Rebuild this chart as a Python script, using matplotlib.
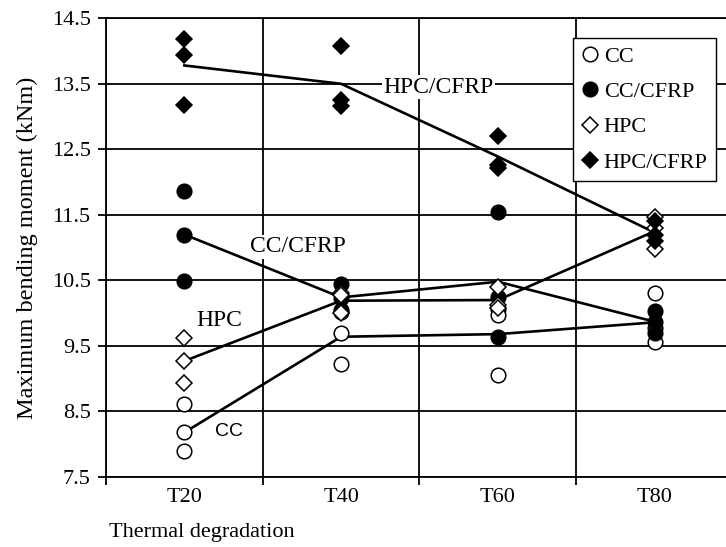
import matplotlib
matplotlib.use("Agg")
import matplotlib.pyplot as plt
from matplotlib.ticker import FixedLocator, NullFormatter

plt.rcParams['font.family'] = ['Liberation Serif', 'DejaVu Serif']
plt.rcParams['font.size'] = 16

categories = ["T20", "T40", "T60", "T80"]

# individual specimen results (kNm), three per temperature
cc_pts = [[8.61, 8.18, 7.89], [10.02, 9.70, 9.22], [10.07, 9.97, 9.05], [10.31, 9.77, 9.56]]
cc_cfrp_pts = [[11.87, 11.20, 10.49], [10.45, 10.23, 10.05], [11.54, 10.25, 9.63], [10.04, 9.87, 9.70]]
hpc_pts = [[9.62, 9.27, 8.93], [10.30, 10.27, 10.00], [10.40, 10.12, 10.08], [11.47, 11.30, 10.98]]
hpc_cfrp_pts = [[14.19, 13.94, 13.17], [14.08, 13.25, 13.16], [12.70, 12.26, 12.21], [11.40, 11.20, 11.10]]

# average lines
cc_line = [8.18, 9.64, 9.68, 9.86]
cc_cfrp_line = [11.20, 10.24, 10.48, 9.87]
hpc_line = [9.27, 10.19, 10.20, 11.25]
hpc_cfrp_line = [13.78, 13.50, 12.39, 11.23]

fig = plt.figure(figsize=(7.26, 5.47), dpi=100)
ax = fig.add_axes([0.146, 0.128, 0.8636, 0.8386])

xs = [i + 0.5 for i in range(len(categories))]

for line in [cc_line, cc_cfrp_line, hpc_line, hpc_cfrp_line]:
    ax.plot(xs, line, color='black', lw=1.9, zorder=3)

series = [
    ("CC", cc_pts, 'o', 'white', 10.5),
    ("CC/CFRP", cc_cfrp_pts, 'o', 'black', 10.5),
    ("HPC", hpc_pts, 'D', 'white', 7.8),
    ("HPC/CFRP", hpc_cfrp_pts, 'D', 'black', 7.8),
]
handles = []
for name, pts, mk, fc, ms in series:
    px = [xs[i] for i, grp in enumerate(pts) for _ in grp]
    py = [v for grp in pts for v in grp]
    h, = ax.plot(px, py, linestyle='none', marker=mk, markersize=ms,
                 markerfacecolor=fc, markeredgecolor='black', markeredgewidth=1.1,
                 label=name, zorder=4)
    handles.append(h)

ax.set_xlim(0, 4)
ax.set_ylim(7.5, 14.5)
ax.set_yticks([7.5, 8.5, 9.5, 10.5, 11.5, 12.5, 13.5, 14.5])
ax.set_yticklabels(["7.5", "8.5", "9.5", "10.5", "11.5", "12.5", "13.5", "14.5"])
ax.xaxis.set_major_locator(FixedLocator([0, 1, 2, 3, 4]))
ax.xaxis.set_major_formatter(NullFormatter())
ax.xaxis.set_minor_locator(FixedLocator(xs))
ax.set_xticklabels(categories, minor=True)
ax.tick_params(axis='x', which='minor', length=0, pad=8)
ax.tick_params(axis='both', which='major', direction='out', length=6, width=1.3, color='black')
ax.tick_params(axis='y', pad=5)

ax.grid(True, which='major', color='black', lw=1.3)
ax.set_axisbelow(True)
for s in ax.spines.values():
    s.set_linewidth(1.3)

ax.set_ylabel("Maximum bending moment (kNm)", fontsize=17.5, labelpad=10)
ax.text(0.005, -0.12, "Thermal degradation", transform=ax.transAxes,
        ha='left', va='center')

box = dict(facecolor='white', edgecolor='none', pad=1)
ax.text(2.124, 13.45, "HPC/CFRP", ha='center', va='center', fontsize=17, bbox=box, zorder=2)
ax.text(1.222, 11.01, "CC/CFRP", ha='center', va='center', fontsize=17, bbox=box, zorder=2)
ax.text(0.72, 9.89, "HPC", ha='center', va='center', fontsize=17, zorder=2)
ax.text(0.787, 8.20, "CC", ha='center', va='center', family='Liberation Sans',
        fontsize=14, zorder=2)

leg = ax.legend(handles=handles, loc='upper left', bbox_to_anchor=(0.745, 0.957),
                borderaxespad=0, fancybox=False, framealpha=1, edgecolor='black',
                handlelength=0.8, handletextpad=0.2, labelspacing=0.66,
                borderpad=0.38, prop={'size': 16})
leg.get_frame().set_linewidth(1.0)
leg.set_zorder(5)

fig.savefig("out.png", dpi=100)
